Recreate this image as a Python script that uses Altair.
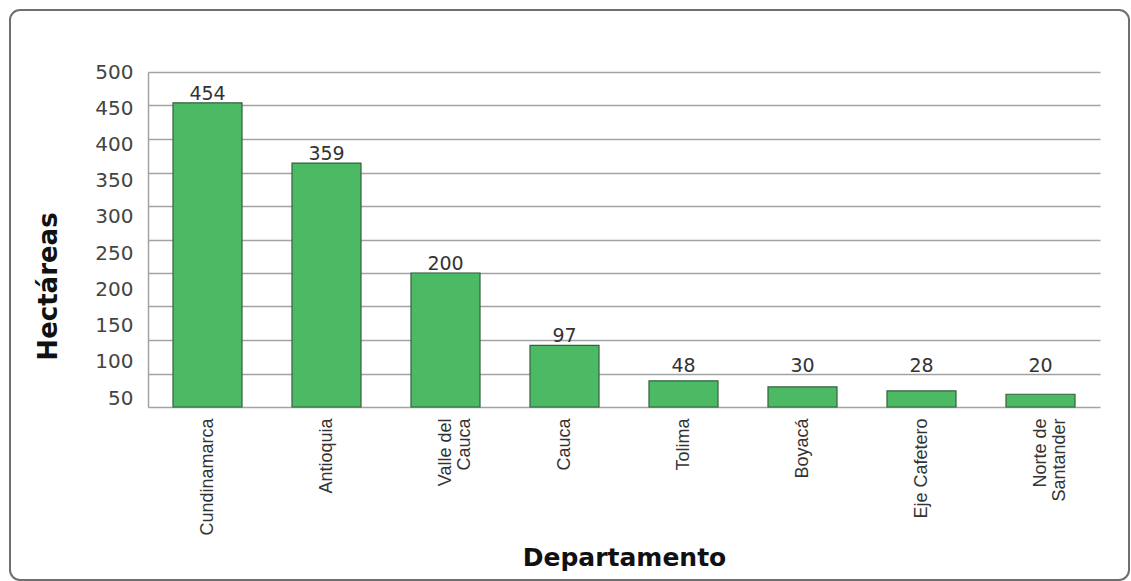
import altair as alt
import pandas as pd

# ---- data ----
departamentos = ["Cundinamarca", "Antioquia", "Valle del Cauca", "Cauca",
                 "Tolima", "Boyacá", "Eje Cafetero", "Norte de Santander"]
valores = [454, 359, 200, 97, 48, 30, 28, 20]          # printed data labels
alturas = [454, 364, 200, 92, 39, 30, 24, 19]          # bar heights as drawn
grid_values = [0, 50, 100, 150, 200, 250, 300, 350, 400, 450, 500]
tick_labels = [50, 100, 150, 200, 250, 300, 350, 400, 450, 500]

df = pd.DataFrame({"dep": departamentos, "valor": valores, "altura": alturas})
ticks_df = pd.DataFrame({"t": tick_labels})
frame_df = pd.DataFrame({"a": [0]})

W, H = 952, 335
GRID = "#a3a3a3"

x_enc = alt.X(
    "dep:N", sort=departamentos,
    scale=alt.Scale(paddingInner=0.42, paddingOuter=0.21),
    axis=alt.Axis(
        title="Departamento", labelAngle=270, labelAlign="right",
        labelBaseline="middle", labelPadding=11, ticks=False, domain=False,
        labelFont="Liberation Sans", labelFontSize=18, labelColor="#333333",
        labelLineHeight=19,
        labelExpr="datum.value == 'Valle del Cauca' ? ['Valle del', 'Cauca'] : "
                  "datum.value == 'Norte de Santander' ? ['Norte de', 'Santander'] : datum.value",
        titleFont="DejaVu Sans", titleFontWeight="bold", titleFontSize=25,
        titleColor="#111111", titleY=158, titleBaseline="alphabetic",
    ),
)

y_axis_grid = alt.Axis(
    values=grid_values, grid=True, gridColor=GRID, gridWidth=1.5,
    labels=False, ticks=False, domain=True, domainColor=GRID,
    domainWidth=1.5, title=None, orient="left",
)

bars = alt.Chart(df).mark_bar(
    color="#4cba64", stroke="#35603f", strokeWidth=1.2
).encode(
    x=x_enc,
    y=alt.Y("altura:Q", scale=alt.Scale(domain=[0, 500], nice=False),
            axis=y_axis_grid),
)

text = alt.Chart(df).transform_calculate(
    ly="max(datum.altura, 48)"
).mark_text(
    dy=-3, baseline="alphabetic", font="DejaVu Sans", fontSize=19,
    color="#333333"
).encode(
    x=x_enc,
    y=alt.Y("ly:Q", scale=alt.Scale(domain=[0, 500], nice=False),
            axis=y_axis_grid),
    text="valor:Q",
)

inner = alt.layer(bars, text)

labels_layer = alt.Chart(ticks_df).mark_point(opacity=0).encode(
    y=alt.Y(
        "t:Q", scale=alt.Scale(domain=[37.6, 500], nice=False, zero=False),
        axis=alt.Axis(
            values=tick_labels, orient="left", grid=False, ticks=False,
            domain=False, labelPadding=15, labelFont="DejaVu Sans",
            labelFontSize=20, labelColor="#444444",
            title="Hectáreas", titleFont="DejaVu Sans", titleFontWeight="bold",
            titleFontSize=26, titleColor="#111111", titleX=-100, titleY=214,
            titleAngle=270, titleAlign="center", titleBaseline="middle",
        ),
    )
)

frame = alt.Chart(frame_df).mark_rect(
    fillOpacity=0, stroke="#6f6f6f", strokeWidth=2, cornerRadius=10
).encode(
    x=alt.value(-138), x2=alt.value(981),
    y=alt.value(-62), y2=alt.value(508),
)

chart = alt.layer(frame, inner, labels_layer).resolve_scale(
    y="independent"
).properties(
    width=W, height=H,
    padding={"left": 9, "top": 9, "right": 0, "bottom": 0},
    background="white",
).configure_view(strokeWidth=0)

chart.save("out.html", embed_options={"renderer": "svg", "actions": False})
